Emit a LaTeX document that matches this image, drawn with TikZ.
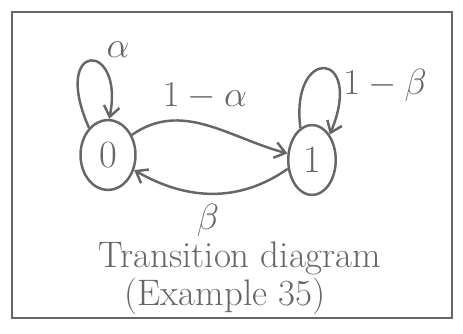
\documentclass[tikz,border=0pt]{standalone}
\usetikzlibrary{arrows.meta,shapes.geometric}
\definecolor{pencil}{HTML}{666666}
\begin{document}
\begin{tikzpicture}[x=0.02cm,y=-0.02cm,
  every node/.style={text=pencil},
  statenode/.style={draw=pencil,line width=1.4pt,ellipse,inner sep=0pt,font=\fontsize{22}{24}\selectfont},
  conn/.style={draw=pencil,line width=1.4pt,-{Straight Barb[length=6pt,width=9pt]}},
  lbl/.style={font=\fontsize{20}{22}\selectfont},
  captext/.style={font=\fontsize{21}{24}\selectfont,inner sep=0pt},
  frame/.style={draw=pencil,line width=1.6pt}]
\useasboundingbox (0,0) rectangle (463,334);
\draw[frame] (12,12) rectangle (452,318);
\node[statenode,minimum width=1.1cm,minimum height=1.4cm] (n0) at (108,155) {0};
\node[statenode,minimum width=0.95cm,minimum height=1.4cm] (n1) at (312,160) {1};
\draw[conn] (n0.40) to[out=35,in=165] (n1.165);
\draw[conn] (n1.200) to[out=215,in=-30] (n0.-30);
\draw[conn] (n0.125) .. controls (50,40) and (125,40) .. (n0.88);
\draw[conn] (n1.110) .. controls (290,45) and (365,50) .. (n1.55);
\node[lbl] (la) at (118,50) {$\alpha$};
\node[lbl] (l1a) at (205,96) {$1-\alpha$};
\node[lbl] (l1b) at (385,85) {$1-\beta$};
\node[lbl] (lb) at (208,220) {$\beta$};
\node[captext] (cap1) at (240,258) {Transition diagram};
\node[captext] (cap2) at (225,296) {(Example 35)};
\end{tikzpicture}
\end{document}
